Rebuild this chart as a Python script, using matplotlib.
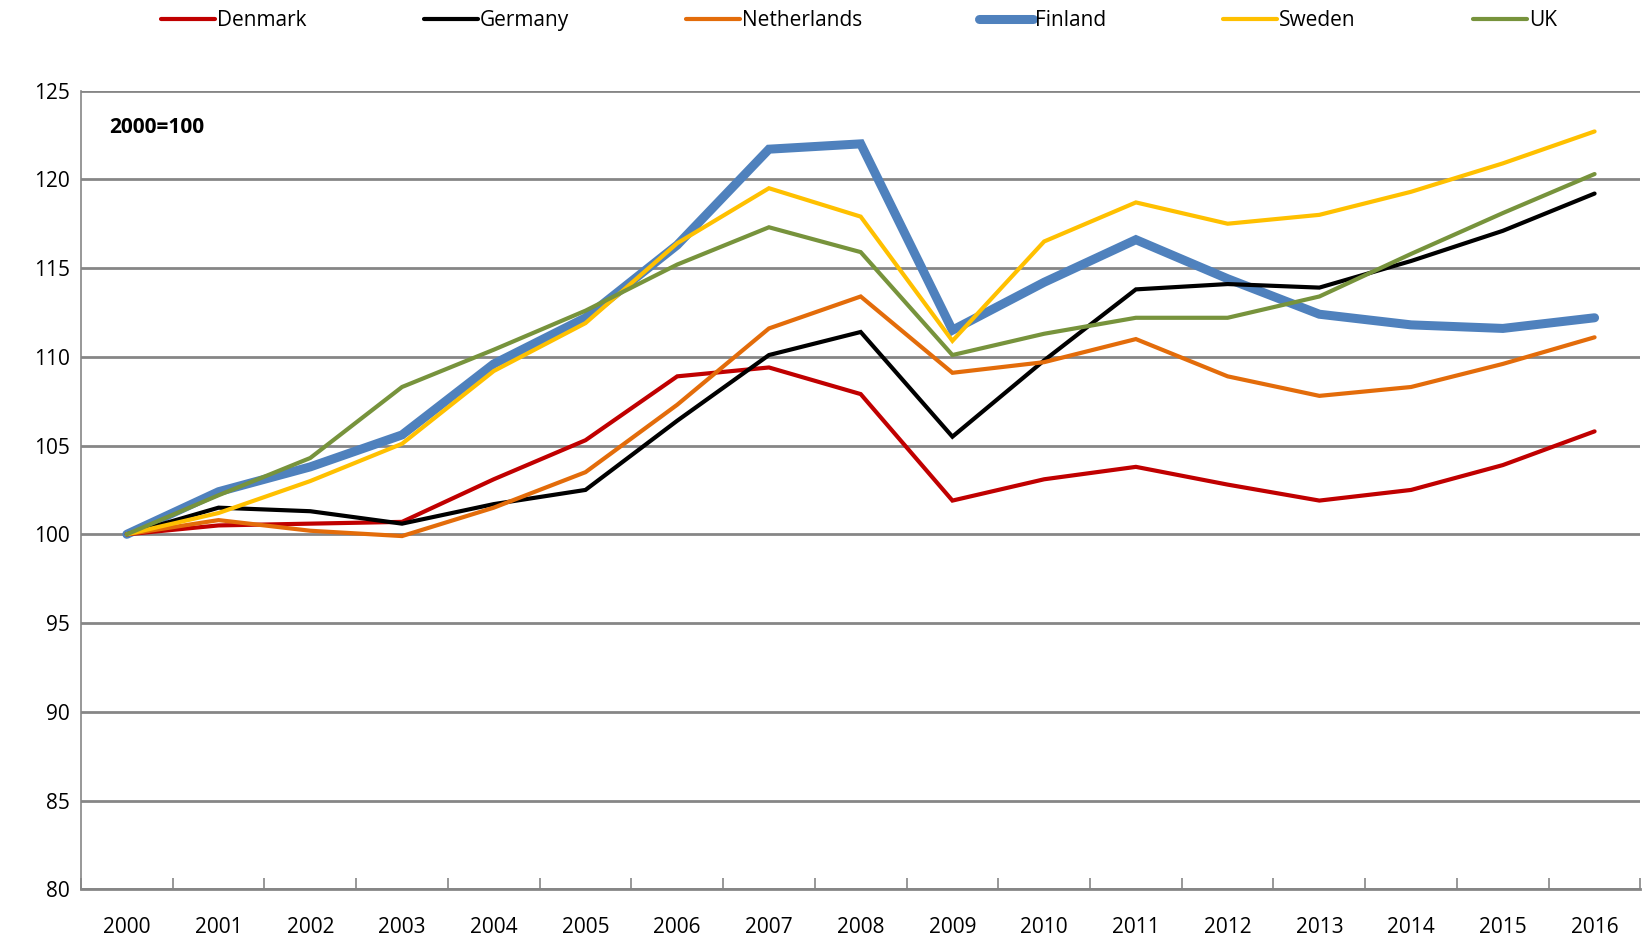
import matplotlib
matplotlib.use("Agg")
import matplotlib.pyplot as plt
import numpy as np

years = [str(y) for y in range(2000, 2017)]
denmark = [100, 100.5, 100.6, 100.7, 103.1, 105.3, 108.9, 109.4, 107.9, 101.9, 103.1, 103.8, 102.8, 101.9, 102.5, 103.9, 105.8]
germany = [100, 101.5, 101.3, 100.6, 101.7, 102.5, 106.4, 110.1, 111.4, 105.5, 109.8, 113.8, 114.1, 113.9, 115.4, 117.1, 119.2]
netherlands = [100, 100.8, 100.2, 99.9, 101.5, 103.5, 107.3, 111.6, 113.4, 109.1, 109.7, 111.0, 108.9, 107.8, 108.3, 109.6, 111.1]
finland = [100, 102.4, 103.8, 105.6, 109.6, 112.2, 116.3, 121.7, 122.0, 111.5, 114.2, 116.6, 114.4, 112.4, 111.8, 111.6, 112.2]
sweden = [100, 101.2, 103.0, 105.1, 109.2, 111.9, 116.4, 119.5, 117.9, 110.9, 116.5, 118.7, 117.5, 118.0, 119.3, 120.9, 122.7]
uk = [100, 102.2, 104.3, 108.3, 110.4, 112.6, 115.2, 117.3, 115.9, 110.1, 111.3, 112.2, 112.2, 113.4, 115.8, 118.1, 120.3]

yticks = [80, 85, 90, 95, 100, 105, 110, 115, 120, 125]

plt.rcParams['font.family'] = ['Open Sans', 'DejaVu Sans']

fig = plt.figure(figsize=(16.52, 9.40), dpi=100)
ax = fig.add_axes([0.049, 0.054, 0.944, 0.8496])

x = np.arange(len(years))
series = [
    ("Denmark", denmark, "#C00000", 3.0),
    ("Germany", germany, "#000000", 3.0),
    ("Netherlands", netherlands, "#E36C0A", 3.0),
    ("Finland", finland, "#4F81BD", 6.5),
    ("Sweden", sweden, "#FFC000", 3.0),
    ("UK", uk, "#77933C", 3.0),
]
handles = {}
for name, vals, col, lw in series:
    h, = ax.plot(x, vals, color=col, lw=lw, label=name, solid_capstyle='round',
                 solid_joinstyle='miter', zorder=3)
    handles[name] = h
handles["Finland"].set_zorder(2.5)

ax.set_xlim(-0.5, len(years) - 0.5)
ax.set_ylim(80, 125)
ax.set_yticks(yticks)
ax.set_yticklabels([str(v) for v in yticks], fontsize=15)
ax.tick_params(axis='y', length=0, pad=8)
ax.set_xticks(x)
ax.set_xticklabels(years, fontsize=15)
ax.tick_params(axis='x', length=0, pad=20)
ax.set_xticks(np.arange(-0.5, len(years)), minor=True)
ax.tick_params(axis='x', which='minor', direction='in', length=8, color='#868686', width=1.2)

ax.grid(axis='y', color='#868686', lw=2, zorder=0)
ax.set_axisbelow(True)
for s in ['top', 'right']:
    ax.spines[s].set_visible(False)
ax.spines['left'].set_color('#868686')
ax.spines['left'].set_linewidth(1.2)
ax.spines['bottom'].set_color('#868686')
ax.spines['bottom'].set_linewidth(2)

ax.text(0.018, 0.954, "2000=100", transform=ax.transAxes, fontsize=15,
        fontweight='bold', va='center', ha='left')

leg = fig.legend([handles[n] for n, *_ in series], [n for n, *_ in series],
                 loc='center', bbox_to_anchor=(0.52, 0.978), ncol=6, frameon=False,
                 fontsize=15, handlelength=2.6, handletextpad=0.1, columnspacing=5.6)

fig.savefig("out.png", dpi=100)
